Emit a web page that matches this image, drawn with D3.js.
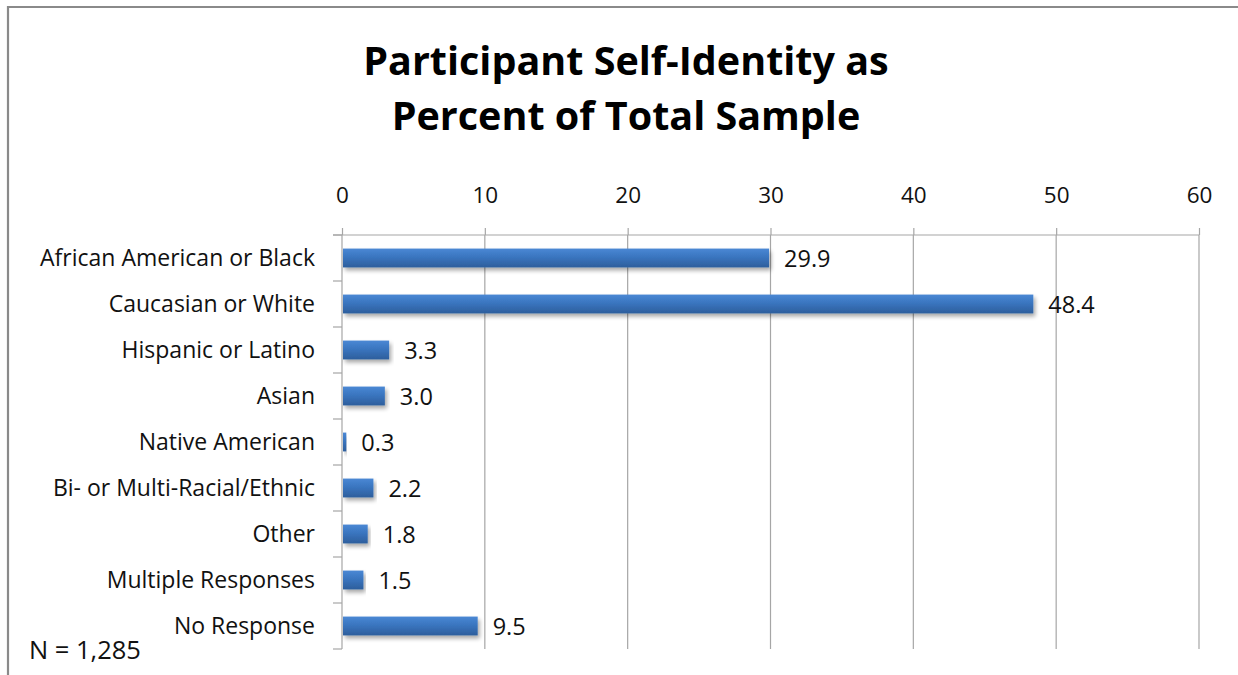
<!DOCTYPE html>
<html>
<head>
<meta charset="utf-8">
<script src="https://cdn.jsdelivr.net/npm/d3@7"></script>
<style>
  html, body { margin: 0; padding: 0; background: #fff; }
  svg { display: block; font-family: "Open Sans", Lato, sans-serif; }
</style>
</head>
<body>
<svg id="chart" width="1238" height="675"></svg>
<script>
// Self-identity categories and their share of the sample (%)
const categories = [
  "African American or Black",
  "Caucasian or White",
  "Hispanic or Latino",
  "Asian",
  "Native American",
  "Bi- or Multi-Racial/Ethnic",
  "Other",
  "Multiple Responses",
  "No Response"
];
const percents = [29.9, 48.4, 3.3, 3.0, 0.3, 2.2, 1.8, 1.5, 9.5];
const xTicks = [0, 10, 20, 30, 40, 50, 60];
const titleLines = ["Participant Self-Identity as", "Percent of Total Sample"];
const footnote = "N = 1,285";

const svg = d3.select("#chart");
const defs = svg.append("defs");

const grad = defs.append("linearGradient")
  .attr("id", "barGrad").attr("x1", 0).attr("y1", 0).attr("x2", 0).attr("y2", 1);
grad.append("stop").attr("offset", "0%").attr("stop-color", "#4a88d4");
grad.append("stop").attr("offset", "45%").attr("stop-color", "#3a75bf");
grad.append("stop").attr("offset", "100%").attr("stop-color", "#2d5e9c");

const shadow = defs.append("filter").attr("id", "barShadow")
  .attr("x", "-5%").attr("y", "-30%").attr("width", "115%").attr("height", "180%");
shadow.append("feGaussianBlur").attr("in", "SourceAlpha").attr("stdDeviation", 2.2).attr("result", "blur");
shadow.append("feOffset").attr("in", "blur").attr("dx", 2).attr("dy", 3).attr("result", "off");
shadow.append("feComponentTransfer").attr("in", "off").attr("result", "soft")
  .append("feFuncA").attr("type", "linear").attr("slope", 0.35);
const merge = shadow.append("feMerge");
merge.append("feMergeNode").attr("in", "soft");
merge.append("feMergeNode").attr("in", "SourceGraphic");

// Outer chart frame (runs past the right and bottom edges)
svg.append("path")
  .attr("d", "M8,680 L8,7 L1245,7")
  .attr("fill", "none").attr("stroke", "#8a8a8a").attr("stroke-width", 2.2);

// Title
svg.append("g").selectAll("text").data(titleLines).join("text")
  .attr("x", 626).attr("y", (d, i) => 75 + i * 55)
  .attr("text-anchor", "middle")
  .attr("font-weight", "bold").attr("font-size", 39.5)
  .attr("fill", "#000")
  .text(d => d);

const plot = { left: 342, right: 1199, top: 235, bottom: 649 };

const x = d3.scaleLinear().domain([0, 60]).range([plot.left, plot.right]);
const y = d3.scaleBand().domain(categories).range([plot.top, plot.bottom])
  .paddingInner(0.59).paddingOuter(0.295);

const gridColor = "#a6a6a6";

// Vertical gridlines
svg.append("g").selectAll("line").data(xTicks.slice(1)).join("line")
  .attr("x1", d => x(d)).attr("x2", d => x(d))
  .attr("y1", plot.top).attr("y2", plot.bottom)
  .attr("stroke", gridColor).attr("stroke-width", 1.2);

// Top value axis
const xAxis = svg.append("g").attr("transform", `translate(0,${plot.top})`)
  .call(d3.axisTop(x).tickValues(xTicks).tickSize(7).tickPadding(25).tickSizeOuter(0));
xAxis.select(".domain").attr("stroke", gridColor).attr("stroke-width", 1.2)
  .attr("d", `M${plot.left - 9},0H${plot.right}`);
xAxis.selectAll(".tick line").attr("stroke", gridColor).attr("stroke-width", 1.2);
xAxis.selectAll(".tick text").attr("font-family", "'Open Sans', sans-serif")
  .attr("font-size", 22.5).attr("fill", "#111");

// Left category axis with ticks at band boundaries
const bandEdges = categories.map(c => y(c) - y.step() * y.paddingInner() / 2)
  .concat([plot.bottom]);
const yAxis = svg.append("g");
yAxis.append("line")
  .attr("x1", plot.left).attr("x2", plot.left)
  .attr("y1", plot.top).attr("y2", plot.bottom)
  .attr("stroke", gridColor).attr("stroke-width", 1.2);
yAxis.selectAll("line.edge").data(bandEdges).join("line").attr("class", "edge")
  .attr("x1", plot.left - 9).attr("x2", plot.left)
  .attr("y1", d => d).attr("y2", d => d)
  .attr("stroke", gridColor).attr("stroke-width", 1.2);
yAxis.selectAll("text").data(categories).join("text")
  .attr("x", 315).attr("y", d => y(d) + y.bandwidth() / 2)
  .attr("dy", "0.35em").attr("text-anchor", "end")
  .attr("font-size", 23).attr("fill", "#111")
  .text(d => d);

// Bars
const rows = categories.map((c, i) => ({ cat: c, val: percents[i] }));
svg.append("g").selectAll("rect").data(rows).join("rect")
  .attr("x", x(0) + 1).attr("y", d => y(d.cat))
  .attr("width", d => Math.max(x(d.val) - x(0) - 1, 0))
  .attr("height", y.bandwidth())
  .attr("fill", "url(#barGrad)")
  .attr("filter", "url(#barShadow)");

// Value labels
svg.append("g").selectAll("text").data(rows).join("text")
  .attr("x", d => x(d.val) + 15).attr("y", d => y(d.cat) + y.bandwidth() / 2)
  .attr("dy", "0.38em")
  .attr("font-size", 23.5).attr("fill", "#111")
  .text(d => d.val.toFixed(1));

// Sample size note
svg.append("text").attr("x", 29).attr("y", 659)
  .attr("font-size", 25.5).attr("fill", "#111")
  .text(footnote);
</script>
</body>
</html>
